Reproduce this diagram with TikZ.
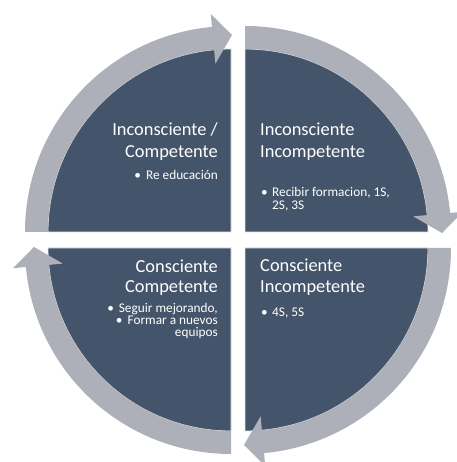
\documentclass[tikz,border=0pt]{standalone}
\usepackage{fontspec}
\setmainfont{Carlito}
\definecolor{quad}{RGB}{68,84,106}
\definecolor{band}{RGB}{173,176,184}
\definecolor{edge}{RGB}{226,226,226}
\tikzset{
  quadfill/.style={fill=quad, draw=edge, line width=0.8pt},
  bandfill/.style={fill=band},
  ttl/.style={text=white, inner sep=0pt, font=\fontsize{18.4}{22}\selectfont},
  itm/.style={text=white, inner sep=0pt, font=\fontsize{13.3}{13}\selectfont},
}
\begin{document}
\begin{tikzpicture}[x=1pt,y=1pt]
\useasboundingbox (0,0) rectangle (456,462);
% dark quarter discs
\begin{scope}[shift={(231,230)}]
  \fill[quadfill] (0,0) -- (180:183) arc[start angle=180,end angle=90,radius=183] -- cycle;
\end{scope}
\begin{scope}[shift={(245,230)}]
  \fill[quadfill] (0,0) -- (90:183) arc[start angle=90,end angle=0,radius=183] -- cycle;
\end{scope}
\begin{scope}[shift={(245,214)}]
  \fill[quadfill] (0,0) -- (0:183) arc[start angle=0,end angle=-90,radius=183] -- cycle;
\end{scope}
\begin{scope}[shift={(231,214)}]
  \fill[quadfill] (0,0) -- (-90:183) arc[start angle=-90,end angle=-180,radius=183] -- cycle;
\end{scope}
% curved arrows
\begin{scope}[shift={(231,230)}]
  \fill[bandfill] (180:183) arc[start angle=180,end angle=95.3,radius=183] -- (95.3:169) -- (89.7:197) -- (95.3:219) -- (95.3:206) arc[start angle=95.3,end angle=180,radius=206] -- cycle;
\end{scope}
\begin{scope}[shift={(245,230)}]
  \fill[bandfill] (90:183) arc[start angle=90,end angle=5.3,radius=183] -- (5.3:169) -- (-0.3:197) -- (5.3:219) -- (5.3:206) arc[start angle=5.3,end angle=90,radius=206] -- cycle;
\end{scope}
\begin{scope}[shift={(245,214)}]
  \fill[bandfill] (0:183) arc[start angle=0,end angle=-84.7,radius=183] -- (-84.7:169) -- (-90.3:197) -- (-84.7:219) -- (-84.7:206) arc[start angle=-84.7,end angle=0,radius=206] -- cycle;
\end{scope}
\begin{scope}[shift={(231,214)}]
  \fill[bandfill] (-90:183) arc[start angle=-90,end angle=-174.7,radius=183] -- (-174.7:169) -- (-180.3:197) -- (-174.7:219) -- (-174.7:206) arc[start angle=-174.7,end angle=-90,radius=206] -- cycle;
\end{scope}
% top left text
\node[ttl, anchor=base east] (tla) at (218,326) {Inconsciente /};
\node[ttl, anchor=base east] (tlb) at (218,304) {Competente};
\node[itm, anchor=base east] (tlc) at (218,282) {\textbullet\hspace{5pt}Re educación};
% top right text
\node[ttl, anchor=base west] (tra) at (260,326) {Inconsciente};
\node[ttl, anchor=base west] (trb) at (260,304) {Incompetente};
\node[itm, anchor=base west] (trc) at (261,265) {\textbullet};
\node[itm, anchor=base west] (trd) at (272,265) {Recibir formacion, 1S,};
\node[itm, anchor=base west] (tre) at (272,252) {2S, 3S};
% bottom right text
\node[ttl, anchor=base west] (bra) at (260,190) {Consciente};
\node[ttl, anchor=base west] (brb) at (260,169) {Incompetente};
\node[itm, anchor=base west] (brc) at (261,145) {\textbullet};
\node[itm, anchor=base west] (brd) at (272,145) {4S, 5S};
% bottom left text
\node[ttl, anchor=base east] (bla) at (218,189) {Consciente};
\node[ttl, anchor=base east] (blb) at (218,169) {Competente};
\node[itm, anchor=base east] (blc) at (218,149) {\textbullet\hspace{5pt}Seguir mejorando,};
\node[itm, anchor=base east] (bld) at (218,137) {\textbullet\hspace{5pt}Formar a nuevos};
\node[itm, anchor=base east] (ble) at (218,125) {equipos};
\end{tikzpicture}
\end{document}
